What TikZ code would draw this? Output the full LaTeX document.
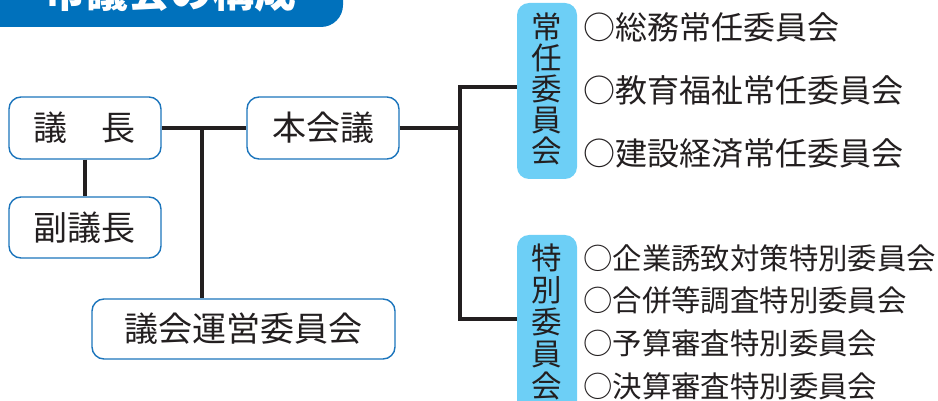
\documentclass[tikz,border=0pt]{standalone}
\usepackage{fontspec}
\setmainfont{Noto Sans CJK JP}
\definecolor{bannerblue}{HTML}{0071BC}
\definecolor{boxblue}{HTML}{1C75BC}
\definecolor{lightblue}{HTML}{6DCFF6}
\definecolor{ink}{HTML}{231F20}
\begin{document}
\begin{tikzpicture}[x=1pt,y=-1pt,
  orgbox/.style={draw=boxblue, line width=1.4pt, fill=white, rounded corners=12pt,
    inner sep=0pt, text=ink, font=\fontsize{34}{40}\selectfont},
  groupbox/.style={fill=lightblue, rounded corners=12pt, inner sep=0pt,
    minimum width=60pt},
  vtext/.style={text=ink, align=center, inner sep=0pt},
  item/.style={text=ink, anchor=west, inner sep=0pt},
  link/.style={draw=ink, line width=4.8pt},
  titletext/.style={text=white, font=\bfseries\fontsize{42}{48}\selectfont, inner sep=0pt}]
\useasboundingbox (0,0) rectangle (938,401);
\clip (0,0) rectangle (938,401);
% title banner
\fill[bannerblue, rounded corners=22pt] (-30,-60) rectangle (343,27);
\node[titletext] (title) at (171,-8) {市議会の構成};
% left boxes
\node[orgbox, minimum width=152pt, minimum height=62pt] (gicho) at (85,128) {議　長};
\node[orgbox, minimum width=152pt, minimum height=61pt] (fuku) at (85,227.5) {副議長};
\node[orgbox, minimum width=152pt, minimum height=62pt] (honkai) at (323,128) {本会議};
\node[orgbox, minimum width=303pt, minimum height=60pt] (unei) at (243.5,329) {議会運営委員会};
% group boxes
\node[groupbox, minimum height=176pt] (jonin) at (547,91) {};
\node[vtext, font=\fontsize{30.5}{31}\selectfont] (joninT) at (547,88.5) {常\\任\\委\\員\\会};
\node[groupbox, minimum height=180pt] (toku) at (547,325) {};
\node[vtext, font=\fontsize{30.5}{32}\selectfont] (tokuT) at (547,322) {特\\別\\委\\員\\会};
% connectors
\coordinate (jct) at (202,128);
\coordinate (c1) at (460,87);
\coordinate (c2) at (460,319);
\coordinate (c0) at (460,128);
\draw[link] (gicho.east) -- (honkai.west);
\draw[link] (gicho.south) -- (fuku.north);
\draw[link] (jct) -- (jct |- unei.north);
\draw[link] (honkai.east) -- (c0);
\draw[link] (jonin.west |- c1) -- (c1) -- (c2) -- (toku.west |- c2);
% standing committees
\begin{scope}[font=\fontsize{32}{36}\selectfont]
\node[item] (j1) at (583,27) {○総務常任委員会};
\node[item] (j2) at (583,90) {○教育福祉常任委員会};
\node[item] (j3) at (583,153) {○建設経済常任委員会};
\end{scope}
% special committees
\begin{scope}[font=\fontsize{29.4}{33}\selectfont]
\node[item] (t1) at (583,258) {○企業誘致対策特別委員会};
\node[item] (t2) at (583,300) {○合併等調査特別委員会};
\node[item] (t3) at (583,343) {○予算審査特別委員会};
\node[item] (t4) at (583,386) {○決算審査特別委員会};
\end{scope}
\end{tikzpicture}
\end{document}
